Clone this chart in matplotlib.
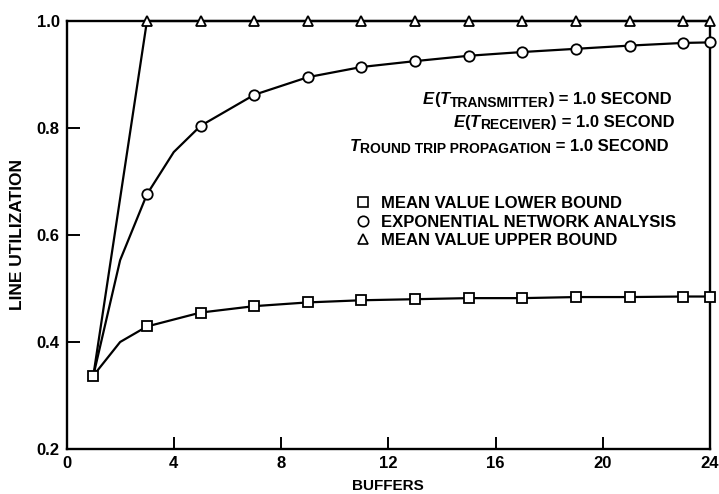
import numpy as np
import matplotlib
matplotlib.use("Agg")
import matplotlib.pyplot as plt
from matplotlib.lines import Line2D

plt.rcParams['font.family'] = ['Liberation Sans', 'DejaVu Sans']
plt.rcParams['font.weight'] = 'bold'
plt.rcParams['axes.labelweight'] = 'bold'

#--------------------------------------------------------------------
####### values

# lower bound (squares), point at 2 buffers has no marker
lower_x = [1, 2, 3, 5, 7, 9, 11, 13, 15, 17, 19, 21, 23, 24]
lower_y = [0.337, 0.40, 0.429, 0.455, 0.467, 0.474, 0.478, 0.480,
           0.482, 0.482, 0.484, 0.484, 0.485, 0.485]
lower_marked = [0, 2, 3, 4, 5, 6, 7, 8, 9, 10, 11, 12, 13]

# exponential network analysis (circles), 2 and 4 buffers unmarked
expo_x = [1, 2, 3, 4, 5, 7, 9, 11, 13, 15, 17, 19, 21, 23, 24]
expo_y = [0.337, 0.553, 0.676, 0.755, 0.804, 0.862, 0.895, 0.914,
          0.925, 0.935, 0.942, 0.948, 0.954, 0.959, 0.960]
expo_marked = [2, 4, 5, 6, 7, 8, 9, 10, 11, 12, 13, 14]

# upper bound (triangles)
upper_x = [1, 3, 5, 7, 9, 11, 13, 15, 17, 19, 21, 23, 24]
upper_y = [0.337, 1.0, 1.0, 1.0, 1.0, 1.0, 1.0, 1.0, 1.0, 1.0, 1.0, 1.0, 1.0]
upper_marked = list(range(1, 13))

x_ticks = [0, 4, 8, 12, 16, 20, 24]
y_ticks = [0.2, 0.4, 0.6, 0.8, 1.0]

legend_labels = ["MEAN VALUE LOWER BOUND",
                 "EXPONENTIAL NETWORK ANALYSIS",
                 "MEAN VALUE UPPER BOUND"]

# (text, size, italic, vertical shift in points)
eq_transmitter = [("E", 12, True, 0), ("(", 12, False, 0), ("T", 12, True, 0),
                  ("TRANSMITTER", 10, False, -1.5), (")", 12, False, 0),
                  (" = 1.0 SECOND", 12, False, 0)]
eq_receiver = [("E", 12, True, 0), ("(", 12, False, 0), ("T", 12, True, 0),
               ("RECEIVER", 10, False, -1.5), (")", 12, False, 0),
               (" = 1.0 SECOND", 12, False, 0)]
eq_roundtrip = [("T", 12, True, 0), ("ROUND TRIP PROPAGATION", 10, False, -1.5),
                (" = 1.0 SECOND", 12, False, 0)]

#--------------------------------------------------------------------

####### write a line of text piece by piece (for the bigger subscripts)
def equation(ax, x, y, pieces):
    first = None
    prev = None
    for s, size, it, dy in pieces:
        style = 'italic' if it else 'normal'
        if prev is None:
            t = ax.text(x, y, s, transform=ax.transAxes, fontsize=size,
                        style=style, va='bottom')
            first = t
        else:
            t = ax.annotate(s, xy=(1, 0), xycoords=(prev, first),
                            xytext=(0, dy), textcoords='offset points',
                            fontsize=size, style=style, va='bottom')
        prev = t


fig = plt.figure(figsize=(7.19, 4.94), dpi=100)
ax = fig.add_axes([0.0925, 0.0911, 0.895, 0.8664])

lw = 1.6
ms = 7.5
common = dict(color='black', lw=lw, markerfacecolor='white',
              markeredgecolor='black', markeredgewidth=1.3, ms=ms,
              clip_on=False, zorder=3)

ax.plot(upper_x, upper_y, marker='^', markevery=upper_marked, **common)
ax.plot(expo_x, expo_y, marker='o', markevery=expo_marked, **common)
ax.plot(lower_x, lower_y, marker='s', markevery=lower_marked, **common)

ax.set_xlim(0, 24)
ax.set_ylim(0.2, 1.0)
ax.set_xticks(x_ticks)
ax.set_yticks(y_ticks)
ax.set_yticklabels(["%.1f" % v for v in y_ticks])
ax.tick_params(direction='in', length=9, width=1.4, labelsize=12)
ax.tick_params(axis='y', pad=5)
ax.tick_params(axis='x', pad=5)
for s in ax.spines.values():
    s.set_linewidth(1.7)

ax.set_xlabel("BUFFERS", fontsize=11, labelpad=6)
ax.set_ylabel("LINE UTILIZATION", fontsize=12.5, labelpad=8)

equation(ax, 0.554, 0.798, eq_transmitter)
equation(ax, 0.601, 0.745, eq_receiver)
equation(ax, 0.4406, 0.689, eq_roundtrip)

handles = [Line2D([], [], ls='none', marker=m, color='black',
                  markerfacecolor='white', ms=ms, markeredgewidth=1.2)
           for m in ['s', 'o', '^']]
ax.legend(handles, legend_labels, loc='center left',
          bbox_to_anchor=(0.439, 0.530), frameon=False,
          prop={'size': 12, 'weight': 'bold'},
          handlelength=0.7, handletextpad=0.73, labelspacing=0.2,
          borderpad=0)

plt.savefig("out.png", dpi=100)
